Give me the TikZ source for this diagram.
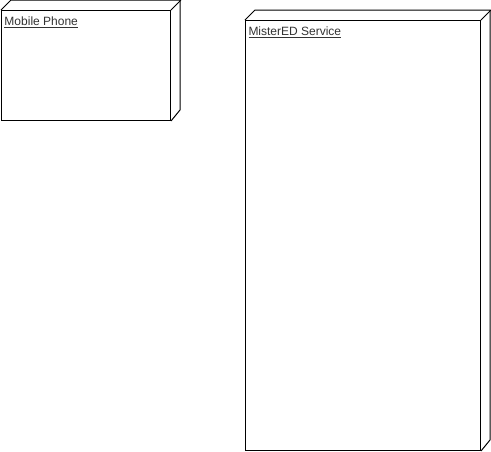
\documentclass[tikz,border=0pt]{standalone}
\usepackage{fontspec}
\setmainfont{Liberation Sans}
\usetikzlibrary{calc}
\definecolor{labelgray}{rgb}{0.2, 0.2, 0.2}

\begin{document}
\begin{tikzpicture}
    [x=1pt,y=1pt,line width=1pt,
     nodebox/.style={rectangle,draw,fill=white,anchor=north west,inner sep=0pt},
     nodetitle/.style={anchor=base west,inner sep=0pt,text=labelgray,font=\fontsize{12}{14}\selectfont}]

    \useasboundingbox (0,0) rectangle (491,-451);

\node[nodebox,minimum width=169,minimum height=110] (phone) at (1,-10) {};
\draw (phone.north west) -- ++(10,10) -- ++(169,0) -- ++(0,-110) -- (phone.south east);
\draw (phone.north east) -- ++(10,10);
\node[nodetitle] (phonetitle) at (4,-25.5) {\underline{Mobile Phone}};

\node[nodebox,minimum width=235,minimum height=430] (service) at (245,-20) {};
\draw (service.north west) -- ++(10,10) -- ++(235,0) -- ++(0,-430) -- (service.south east);
\draw (service.north east) -- ++(10,10);
\node[nodetitle] (servicetitle) at (248,-35.5) {\underline{MisterED Service}};

  \end{tikzpicture}
\end{document}
